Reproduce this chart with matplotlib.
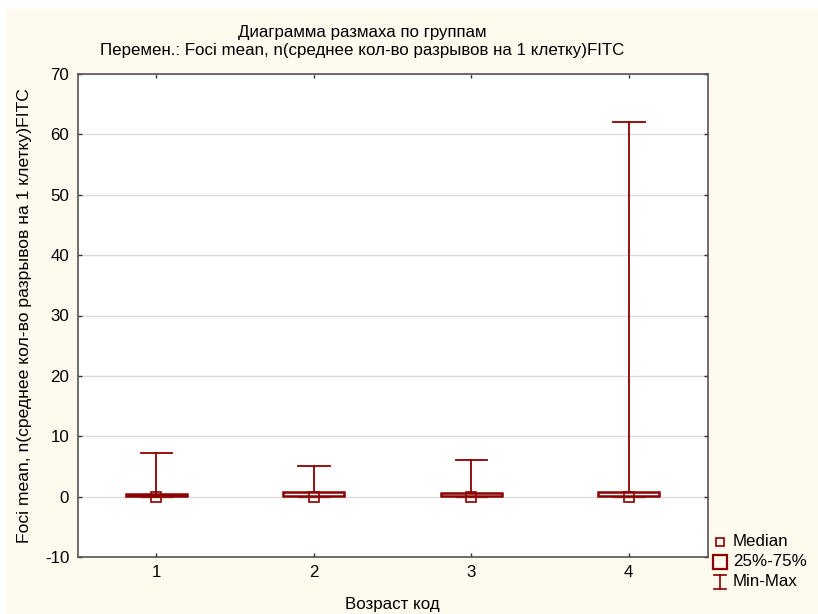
import matplotlib
matplotlib.use("Agg")
import matplotlib.pyplot as plt
from matplotlib.patches import Rectangle
from matplotlib.lines import Line2D

plt.rcParams['font.family'] = ['Liberation Sans', 'DejaVu Sans']
plt.rcParams['axes.unicode_minus'] = False

# box-and-whisker summary per age group
groups = [1, 2, 3, 4]
medians = [0.0, 0.0, 0.0, 0.0]
q1 = [0.1, 0.1, 0.1, 0.1]
q3 = [0.4, 0.8, 0.65, 0.8]
mins = [0.0, 0.0, 0.0, 0.0]
maxs = [7.3, 5.0, 6.1, 62.0]

title1 = "Диаграмма размаха по группам"
title2 = "Перемен.: Foci mean, n(среднее кол-во разрывов на 1 клетку)FITC"
ylabel = "Foci mean, n(среднее кол-во разрывов на 1 клетку)FITC"
xlabel = "Возраст код"
legend_labels = ["Median", "25%-75%", "Min-Max"]

red = "#8b0000"
cream = "#fff9ee"
fs = 12.2

fig = plt.figure(figsize=(8.18, 6.14), dpi=100, facecolor="white")
fig.patches.append(Rectangle((6 / 818, 0), 1, 1 - 9 / 614, transform=fig.transFigure,
                             facecolor=cream, edgecolor="none", zorder=-10))
ax = fig.add_axes([77.5 / 818, 1 - 557 / 614, 630 / 818, 483 / 614])
ax.set_facecolor("white")

box_w = 0.39
cap_w = 0.2
for g, lo, hi, a, b, m in zip(groups, mins, maxs, q1, q3, medians):
    ax.plot([g, g], [lo, hi], color=red, lw=1.3, zorder=2)
    ax.plot([g - cap_w / 2, g + cap_w / 2], [hi, hi], color=red, lw=1.3, zorder=2)
    ax.plot([g - cap_w / 2, g + cap_w / 2], [lo, lo], color=red, lw=1.0, alpha=0.6, zorder=2)
    ax.add_patch(Rectangle((g - box_w / 2, a), box_w, b - a, facecolor="white",
                           edgecolor=red, lw=1.8, zorder=3))
    ax.plot(g, m, marker="s", ms=6.5, mfc="none", mec=red, mew=1.2, zorder=4)

ax.set_xlim(0.5, 4.5)
ax.set_ylim(-10, 70)
ax.set_xticks(groups)
ax.set_yticks(range(-10, 71, 10))
ax.grid(axis="y", color="#dcdcdc", lw=1.0)
ax.set_axisbelow(True)
ax.tick_params(direction="in", length=3, width=1, colors="#333333",
               top=True, right=True, labelsize=fs, labelcolor="black", pad=6)
for s in ax.spines.values():
    s.set_color("#555555")
    s.set_linewidth(1.2)

ax.set_xlabel(xlabel, fontsize=fs, labelpad=12)
ax.set_ylabel(ylabel, fontsize=12.6, labelpad=9)

fig.text(362 / 818, 1 - 32 / 614, title1, ha="center", va="center", fontsize=fs)
fig.text(362 / 818, 1 - 50 / 614, title2, ha="center", va="center", fontsize=fs)

# legend drawn in figure pixels, outside the plot to the lower right
def px(x, y):
    return x / 818, 1 - y / 614

mx, tx = 720, 733
rows = [542, 562, 582]
fig.lines.append(Line2D(*zip(px(mx, rows[0])), ls="none", marker="s", ms=5.5,
                        mfc="none", mec=red, mew=1.2, transform=fig.transFigure))
fig.lines.append(Line2D(*zip(px(mx, rows[1])), ls="none", marker="s", ms=9.5,
                        mfc="none", mec=red, mew=1.6, transform=fig.transFigure))
y3 = rows[2]
for xs, ys in [((mx, mx), (y3 - 7, y3 + 7)),
               ((mx - 6, mx + 6), (y3 - 7, y3 - 7)),
               ((mx - 6, mx + 6), (y3 + 7, y3 + 7))]:
    p0, p1 = px(xs[0], ys[0]), px(xs[1], ys[1])
    fig.lines.append(Line2D([p0[0], p1[0]], [p0[1], p1[1]], color=red, lw=1.2,
                            transform=fig.transFigure))
for y, lab in zip(rows, legend_labels):
    fig.text(*px(tx, y), lab, ha="left", va="center", fontsize=fs)

fig.savefig("out.png", dpi=100, facecolor=fig.get_facecolor())
